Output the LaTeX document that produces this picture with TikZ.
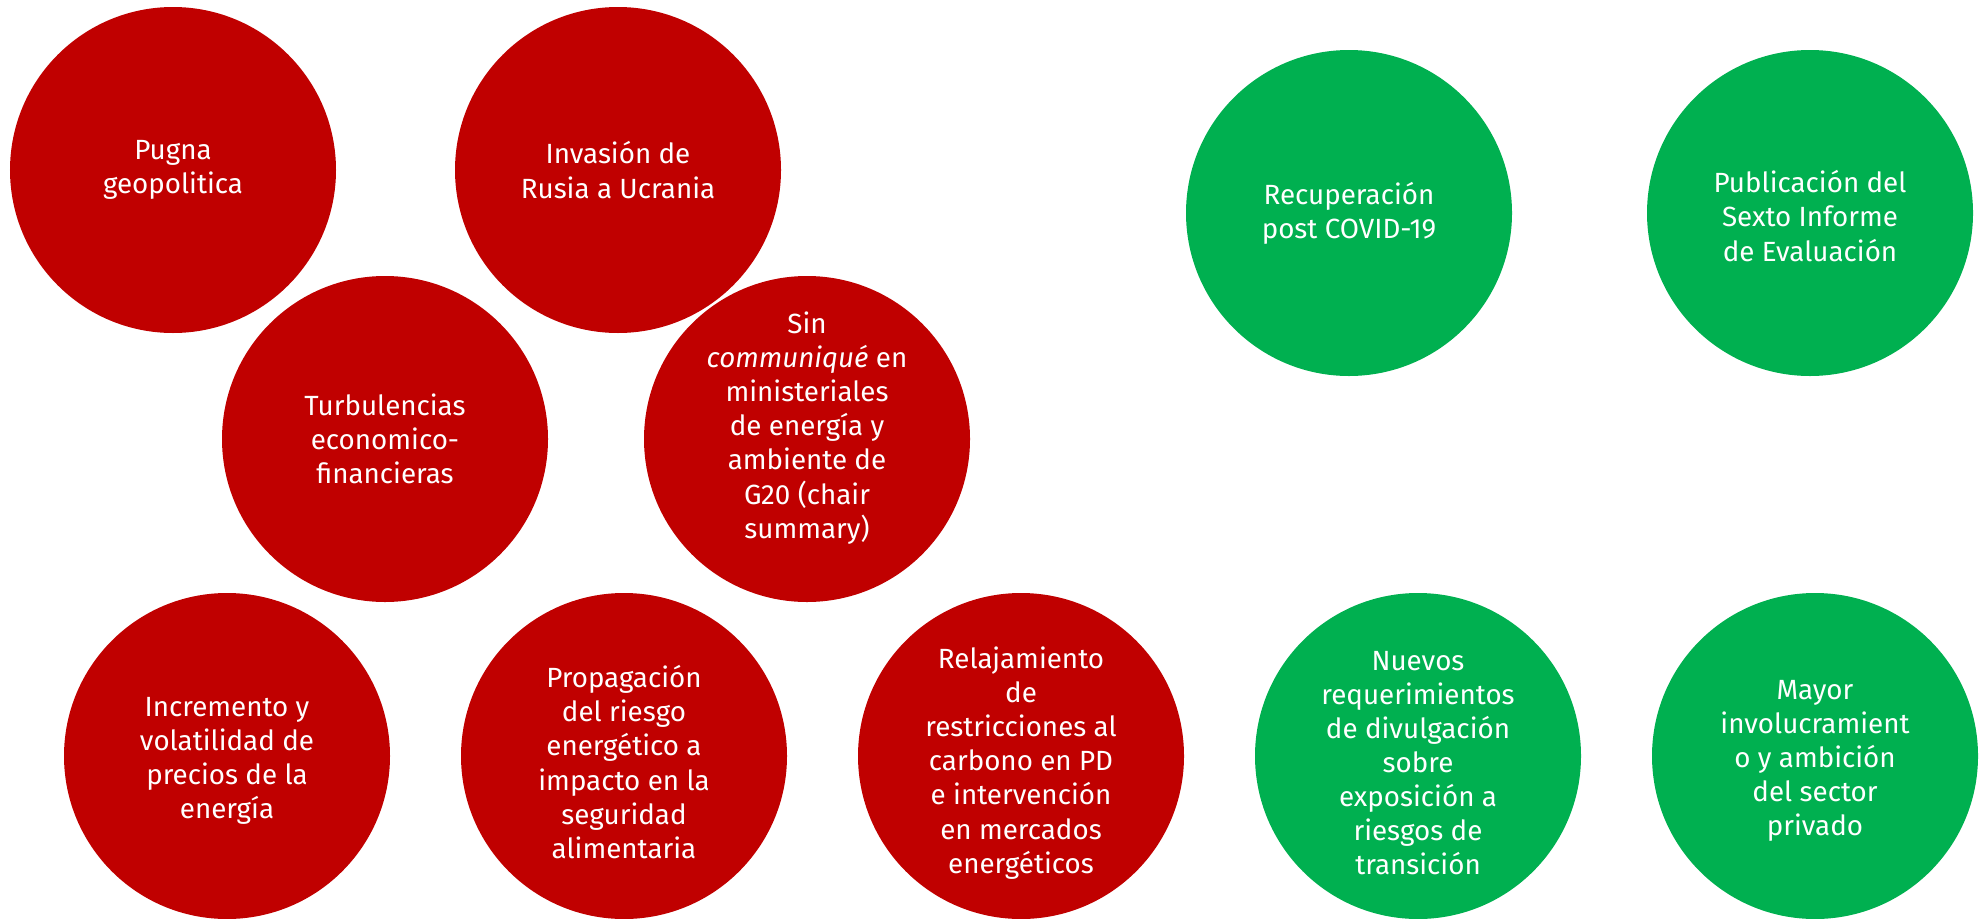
\documentclass[tikz,border=0pt]{standalone}
\usepackage{fontspec}
\setmainfont{Fira Sans}
\usepackage{tikz}
\definecolor{riskred}{HTML}{C00000}
\definecolor{oppgreen}{HTML}{00B050}

\begin{document}
\begin{tikzpicture}[
	bubble/.style={shape=circle,minimum size=3.26cm,inner sep=0pt},
	risk/.style={bubble,fill=riskred},
	opp/.style={bubble,fill=oppgreen},
	txt/.style={inner sep=0pt,align=center,text=white,font=\fontsize{7.9pt}{9.7pt}\selectfont}]
	\useasboundingbox (0,0) rectangle (19.81,-9.18);
	\node[risk] (R1) at (1.73,-1.70) {};
	\node[risk] (R2) at (6.18,-1.70) {};
	\node[risk] (R3) at (3.85,-4.39) {};
	\node[risk] (R4) at (8.07,-4.39) {};
	\node[risk] (R5) at (2.27,-7.56) {};
	\node[risk] (R6) at (6.24,-7.56) {};
	\node[risk] (R7) at (10.21,-7.56) {};
	\node[opp] (G1) at (13.49,-2.13) {};
	\node[opp] (G2) at (18.10,-2.13) {};
	\node[opp] (G3) at (14.18,-7.56) {};
	\node[opp] (G4) at (18.15,-7.56) {};
	% texts
	\node[txt] (R1t) at (R1) {Pugna\\geopolitica};
	\node[txt] (R2t) at (R2) {Invasión de\\Rusia a Ucrania};
	\node[txt] (R3t) at (R3) {Turbulencias\\economico-\\financieras};
	\node[txt] (R4t) at ([yshift=0.11cm]R4) {Sin\\\textit{communiqué} en\\ministeriales\\de energía y\\ambiente de\\G20 (chair\\summary)};
	\node[txt] (R5t) at ([yshift=-0.05cm]R5) {Incremento y\\volatilidad de\\precios de la\\energía};
	\node[txt] (R6t) at ([yshift=-0.06cm]R6) {Propagación\\del riesgo\\energético a\\impacto en la\\seguridad\\alimentaria};
	\node[txt] (R7t) at ([yshift=-0.07cm]R7) {Relajamiento\\de\\restricciones al\\carbono en PD\\e intervención\\en mercados\\energéticos};
	\node[txt] (G1t) at (G1) {Recuperación\\post COVID-19};
	\node[txt] (G2t) at ([yshift=-0.03cm]G2) {Publicación del\\Sexto Informe\\de Evaluación};
	\node[txt] (G3t) at ([yshift=-0.07cm]G3) {Nuevos\\requerimientos\\de divulgación\\sobre\\exposición a\\riesgos de\\transición};
	\node[txt] (G4t) at ([yshift=-0.05cm]G4) {Mayor\\involucramient\\o y ambición\\del sector\\privado};
\end{tikzpicture}
\end{document}
